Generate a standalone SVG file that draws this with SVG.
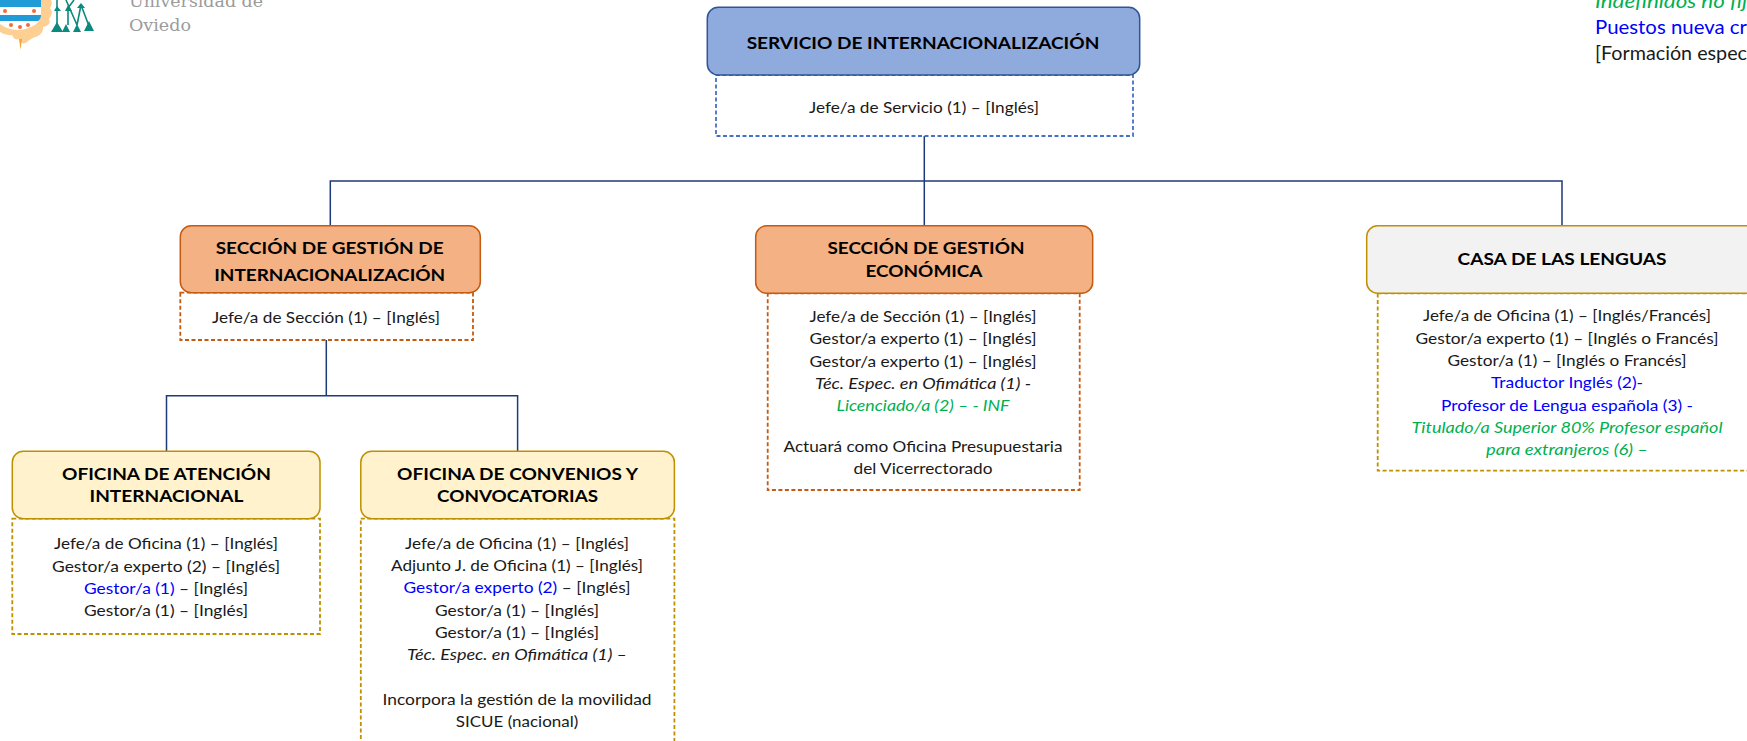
<svg xmlns="http://www.w3.org/2000/svg" width="1747" height="741" viewBox="0 0 1747 741">
<style>
text{font-family:Lato,"Open Sans","Liberation Sans",sans-serif;text-anchor:middle;fill:#1a1a1a;font-size:16px}
.h{font-weight:700;font-size:17.5px;fill:#000}
.i{font-style:italic}
.g{fill:#00b050}
.b{fill:#0000ff}
.c{fill:none;stroke:#1f3a7a;stroke-width:1.5}
.d{fill:#fff;stroke-width:1.8;stroke-dasharray:4 2.5}
.logo{font-family:"DejaVu Serif","Liberation Serif",serif;fill:#9b9b9b;font-size:17px;text-anchor:start}
.leg{text-anchor:start;font-size:20px}
.teal{fill:#0b8a7d}
.tl{fill:none;stroke:#0b8a7d;stroke-width:1.6}
.dot{fill:#f26b3a}
</style>
<g id="connectors">
<path class="c" d="M924.3 136V225.7M330.3 225.7V181H1562V225.7"/>
<path class="c" d="M326.3 340V395.7M166.5 451.3V395.7H517.6V451.3"/>
</g>
<g id="logo">
<path d="M0 32Q6 36 12 35Q15 41 19 39Q22 46 27 42Q31 38 38 36Q44 32 43 27Q52 25 49 19Q54 13 50 8Q53 3 51 0H0Z" fill="#fdcf92"/>
<path d="M19 39L20.5 50L22 39Z" fill="#f2a93b"/>
<path d="M0 0H41V13Q41 22 33 26Q25 30 19 30Q10 30 3 26L0 24Z" fill="#fff"/>
<path d="M0 0H41V7H0Z" fill="#1f9bd7"/>
<path d="M0 15H41Q41 19 38 21H0Z" fill="#1f9bd7"/>
<circle class="dot" cx="5" cy="11" r="2"/><circle class="dot" cx="34" cy="11" r="2"/>
<circle class="dot" cx="11" cy="25" r="2"/><circle class="dot" cx="20" cy="27" r="2"/><circle class="dot" cx="28" cy="25" r="2"/>
<path class="tl" d="M57 0V25M66 0L77 25M68 8V25M74 0L68 8M81 5L89 26M81 5L77 25"/>
<path class="teal" d="M51 32L57 22L63 32ZM62 32L66 24L70 32ZM73 32L77 24L81 32ZM84 31L89 21L94 31ZM54 11L57 6L61 11ZM65 11L68 5L72 11ZM77 8L81 3L85 8Z"/>
</g>
<g id="logo-text">
<text class="logo" x="129" y="7" textLength="134" lengthAdjust="spacingAndGlyphs">Universidad de</text>
<text class="logo" x="129" y="30.7" textLength="62" lengthAdjust="spacingAndGlyphs">Oviedo</text>
</g>
<g id="legend">
<text class="leg i g" x="1595" y="8" textLength="152" lengthAdjust="spacingAndGlyphs">Indefinidos no fij</text>
<text class="leg b" x="1595" y="33.5" textLength="152" lengthAdjust="spacingAndGlyphs">Puestos nueva cr</text>
<text class="leg" x="1595" y="60" textLength="152" lengthAdjust="spacingAndGlyphs">[Formación espec</text>
</g>
<g id="servicio">
<rect class="d" x="716" y="75" width="417" height="61" stroke="#4472c4"/>
<rect x="707.3" y="7.3" width="432.4" height="67.7" rx="11" fill="#8faadc" stroke="#2f5597" stroke-width="1.5"/>
<text class="h" x="923" y="49" textLength="352.7" lengthAdjust="spacingAndGlyphs">SERVICIO DE INTERNACIONALIZACIÓN</text>
<text x="924" y="112.7" textLength="230" lengthAdjust="spacingAndGlyphs">Jefe/a de Servicio (1) – [Inglés]</text>
</g>
<g id="seccion-internacionalizacion">
<rect class="d" x="180.3" y="292.7" width="292.7" height="47.3" stroke="#c55a11"/>
<rect x="180.3" y="225.7" width="300" height="67" rx="11" fill="#f4b183" stroke="#c55a11" stroke-width="1.5"/>
<text class="h" x="329.7" y="254.3" textLength="228" lengthAdjust="spacingAndGlyphs">SECCIÓN DE GESTIÓN DE</text>
<text class="h" x="329.7" y="281" textLength="231" lengthAdjust="spacingAndGlyphs">INTERNACIONALIZACIÓN</text>
<text x="326" y="323.3" textLength="228" lengthAdjust="spacingAndGlyphs">Jefe/a de Sección (1) – [Inglés]</text>
</g>
<g id="seccion-economica">
<rect class="d" x="767.7" y="293.3" width="312" height="196.7" stroke="#c55a11"/>
<rect x="755.7" y="225.7" width="337" height="67.6" rx="11" fill="#f4b183" stroke="#c55a11" stroke-width="1.5"/>
<text class="h" x="926" y="254.3" textLength="197" lengthAdjust="spacingAndGlyphs">SECCIÓN DE GESTIÓN</text>
<text class="h" x="924" y="277" textLength="117" lengthAdjust="spacingAndGlyphs">ECONÓMICA</text>
<text x="923" y="322" textLength="227" lengthAdjust="spacingAndGlyphs">Jefe/a de Sección (1) – [Inglés]</text>
<text x="923" y="344" textLength="227" lengthAdjust="spacingAndGlyphs">Gestor/a experto (1) – [Inglés]</text>
<text x="923" y="366.7" textLength="227" lengthAdjust="spacingAndGlyphs">Gestor/a experto (1) – [Inglés]</text>
<text class="i" x="923" y="389" textLength="216" lengthAdjust="spacingAndGlyphs">Téc. Espec. en Ofimática (1) -</text>
<text class="i g" x="923" y="411" textLength="173" lengthAdjust="spacingAndGlyphs">Licenciado/a (2) – - INF</text>
<text x="923" y="451.7" textLength="279" lengthAdjust="spacingAndGlyphs">Actuará como Oficina Presupuestaria</text>
<text x="923" y="474" textLength="139" lengthAdjust="spacingAndGlyphs">del Vicerrectorado</text>
</g>
<g id="casa-lenguas">
<rect class="d" x="1377.7" y="293.3" width="400" height="177.4" stroke="#bf9000"/>
<rect x="1366.7" y="225.7" width="400" height="67.6" rx="11" fill="#f2f2f2" stroke="#bf9000" stroke-width="1.5"/>
<text class="h" x="1562" y="265" textLength="209" lengthAdjust="spacingAndGlyphs">CASA DE LAS LENGUAS</text>
<text x="1567" y="321" textLength="288" lengthAdjust="spacingAndGlyphs">Jefe/a de Oficina (1) – [Inglés/Francés]</text>
<text x="1567" y="343.7" textLength="303" lengthAdjust="spacingAndGlyphs">Gestor/a experto (1) – [Inglés o Francés]</text>
<text x="1567" y="366" textLength="239" lengthAdjust="spacingAndGlyphs">Gestor/a (1) – [Inglés o Francés]</text>
<text class="b" x="1567" y="388" textLength="152" lengthAdjust="spacingAndGlyphs">Traductor Inglés (2)-</text>
<text class="b" x="1567" y="411" textLength="252" lengthAdjust="spacingAndGlyphs">Profesor de Lengua española (3) -</text>
<text class="i g" x="1567" y="433" textLength="311" lengthAdjust="spacingAndGlyphs">Titulado/a Superior 80% Profesor español</text>
<text class="i g" x="1567" y="455" textLength="162" lengthAdjust="spacingAndGlyphs">para extranjeros (6) –</text>
</g>
<g id="oficina-atencion">
<rect class="d" x="12.3" y="518.7" width="307.7" height="115.3" stroke="#bf9000"/>
<rect x="12.3" y="451.3" width="307.7" height="67.4" rx="11" fill="#fff2cc" stroke="#bf9000" stroke-width="1.5"/>
<text class="h" x="166.5" y="480" textLength="209" lengthAdjust="spacingAndGlyphs">OFICINA DE ATENCIÓN</text>
<text class="h" x="166.5" y="502" textLength="154" lengthAdjust="spacingAndGlyphs">INTERNACIONAL</text>
<text x="166" y="549.3" textLength="224" lengthAdjust="spacingAndGlyphs">Jefe/a de Oficina (1) – [Inglés]</text>
<text x="166" y="572.3" textLength="228" lengthAdjust="spacingAndGlyphs">Gestor/a experto (2) – [Inglés]</text>
<text x="166" y="594.3" textLength="164" lengthAdjust="spacingAndGlyphs"><tspan class="b">Gestor/a (1)</tspan> – [Inglés]</text>
<text x="166" y="616.3" textLength="164" lengthAdjust="spacingAndGlyphs">Gestor/a (1) – [Inglés]</text>
</g>
<g id="oficina-convenios">
<rect class="d" x="360.8" y="518.7" width="313.6" height="245" stroke="#bf9000"/>
<rect x="360.8" y="451.3" width="313.6" height="67.4" rx="11" fill="#fff2cc" stroke="#bf9000" stroke-width="1.5"/>
<text class="h" x="517.6" y="480" textLength="241" lengthAdjust="spacingAndGlyphs">OFICINA DE CONVENIOS Y</text>
<text class="h" x="517.6" y="502" textLength="161" lengthAdjust="spacingAndGlyphs">CONVOCATORIAS</text>
<text x="517" y="549.3" textLength="224" lengthAdjust="spacingAndGlyphs">Jefe/a de Oficina (1) – [Inglés]</text>
<text x="517" y="571.3" textLength="252" lengthAdjust="spacingAndGlyphs">Adjunto J. de Oficina (1) – [Inglés]</text>
<text x="517" y="593.3" textLength="227" lengthAdjust="spacingAndGlyphs"><tspan class="b">Gestor/a experto (2)</tspan> – [Inglés]</text>
<text x="517" y="616.3" textLength="164" lengthAdjust="spacingAndGlyphs">Gestor/a (1) – [Inglés]</text>
<text x="517" y="638.3" textLength="164" lengthAdjust="spacingAndGlyphs">Gestor/a (1) – [Inglés]</text>
<text class="i" x="517" y="660.3" textLength="220" lengthAdjust="spacingAndGlyphs">Téc. Espec. en Ofimática (1) –</text>
<text x="517" y="705.3" textLength="269" lengthAdjust="spacingAndGlyphs">Incorpora la gestión de la movilidad</text>
<text x="517" y="727.3" textLength="122.5" lengthAdjust="spacingAndGlyphs">SICUE (nacional)</text>
</g>
</svg>
